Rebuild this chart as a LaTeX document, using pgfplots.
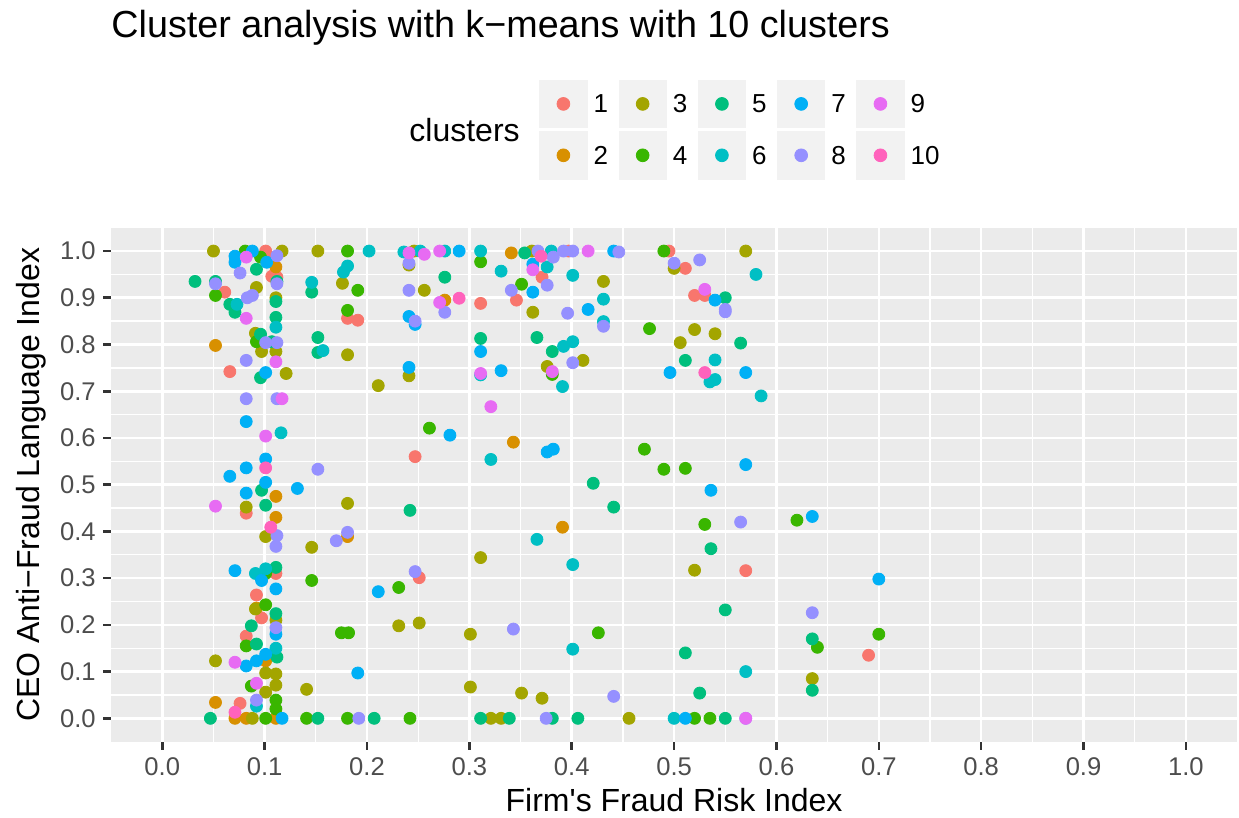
\documentclass[border=0pt]{standalone}
\usepackage{pgfplots}
\pgfplotsset{compat=1.18}
\usepackage{fontspec}
\setmainfont{Liberation Sans}

% ggplot2 hue palette for ten groups
\definecolor{c1}{HTML}{F8766D}
\definecolor{c2}{HTML}{D89000}
\definecolor{c3}{HTML}{A3A500}
\definecolor{c4}{HTML}{39B600}
\definecolor{c5}{HTML}{00BF7D}
\definecolor{c6}{HTML}{00BFC4}
\definecolor{c7}{HTML}{00B0F6}
\definecolor{c8}{HTML}{9590FF}
\definecolor{c9}{HTML}{E76BF3}
\definecolor{c10}{HTML}{FF62BC}
\definecolor{panelbg}{HTML}{EBEBEB}
\definecolor{keybg}{HTML}{F2F2F2}
\definecolor{tickcol}{HTML}{333333}
\definecolor{ticktext}{HTML}{4D4D4D}

\pgfplotsset{
  cl/.style={only marks, mark=*, mark size=3pt,
    legend image code/.code={
      \fill[keybg] (0pt,-11.85pt) rectangle (23.7pt,11.85pt);
      \fill (11.85pt,0pt) circle (3.2pt);
    }},
}

\begin{document}
\begin{tikzpicture}
\begin{axis}[
  scale only axis,
  width=563pt, height=257pt,
  xmin=-0.05, xmax=1.05, ymin=-0.05, ymax=1.05,
  axis background/.style={fill=panelbg},
  axis line style={draw=none},
  xtick={0,0.1,0.2,0.3,0.4,0.5,0.6,0.7,0.8,0.9,1},
  ytick={0,0.1,0.2,0.3,0.4,0.5,0.6,0.7,0.8,0.9,1},
  xticklabels={0.0,0.1,0.2,0.3,0.4,0.5,0.6,0.7,0.8,0.9,1.0},
  yticklabels={0.0,0.1,0.2,0.3,0.4,0.5,0.6,0.7,0.8,0.9,1.0},
  minor xtick={0.05,0.15,0.25,0.35,0.45,0.55,0.65,0.75,0.85,0.95},
  minor ytick={0.05,0.15,0.25,0.35,0.45,0.55,0.65,0.75,0.85,0.95},
  grid=both,
  major grid style={white, line width=1.3pt},
  minor grid style={white, line width=0.65pt},
  tick pos=left,
  tick align=outside,
  major tick length=4pt,
  minor tick length=0pt,
  every tick/.append style={tickcol, line width=1.3pt},
  xticklabel style={font=\fontsize{12.8}{14}\selectfont, text=ticktext, inner sep=0pt, anchor=north, yshift=-3.9pt},
  yticklabel style={font=\fontsize{12.8}{14}\selectfont, text=ticktext, inner sep=0pt, anchor=east, xshift=-3.5pt},
  xlabel={Firm\textquotesingle s Fraud Risk Index},
  ylabel={CEO Anti−Fraud Language Index},
  xlabel style={font=\fontsize{16}{18}\selectfont, at={(axis description cs:0.5,0)}, anchor=base, yshift=-35.15pt, inner sep=0pt},
  ylabel style={font=\fontsize{16}{18}\selectfont, at={(axis description cs:0,0.5)}, anchor=base, yshift=36pt, inner sep=0pt},
  legend columns=2,
  transpose legend,
  legend cell align=left,
  legend style={draw=none, fill=none,
    at={(axis description cs:0.3803,1.2877)}, anchor=north west,
    inner sep=0pt, outer sep=0pt, row sep=1.6pt, column sep=0pt,
    nodes={inner sep=0pt, outer sep=0pt, text depth=0pt, font=\fontsize{13}{15}\selectfont},
    /tikz/every odd column/.append style={column sep=3.1pt},
    /tikz/every even column/.append style={column sep=5.2pt}},
]
% cluster 1
\addplot[cl, color=c1] coordinates {
(0.101,1.0) (0.102,0.99) (0.107,0.946) (0.112,0.944) (0.061,0.912) (0.066,0.742)
(0.397,1.0) (0.371,0.944) (0.346,0.895) (0.311,0.888) (0.181,0.856) (0.191,0.852)
(0.495,1.0) (0.511,0.963) (0.52,0.905) (0.53,0.905) (0.247,0.56) (0.082,0.439)
(0.111,0.31) (0.092,0.264) (0.097,0.215) (0.082,0.176) (0.076,0.032) (0.251,0.301)
(0.57,0.316) (0.69,0.135)};
\addlegendentry{1}
% cluster 2
\addplot[cl, color=c2] coordinates {
(0.111,0.966) (0.052,0.798) (0.341,0.996) (0.276,0.895) (0.343,0.591) (0.111,0.475)
(0.111,0.43) (0.181,0.389) (0.391,0.409) (0.092,0.236) (0.101,0.123) (0.052,0.034)
(0.071,0.0) (0.082,0.0) (0.111,0.0)};
\addlegendentry{2}
% cluster 3
\addplot[cl, color=c3] coordinates {
(0.05,1.0) (0.117,1.0) (0.152,1.0) (0.092,0.922) (0.111,0.9) (0.091,0.824)
(0.097,0.785) (0.111,0.785) (0.121,0.738) (0.246,1.0) (0.241,0.97) (0.176,0.931)
(0.256,0.916) (0.181,0.778) (0.241,0.733) (0.211,0.712) (0.361,1.0) (0.362,0.869)
(0.376,0.753) (0.411,0.766) (0.431,0.935) (0.5,0.963) (0.52,0.832) (0.506,0.804)
(0.57,1.0) (0.54,0.823) (0.082,0.452) (0.101,0.389) (0.146,0.366) (0.181,0.46)
(0.311,0.344) (0.52,0.317) (0.091,0.234) (0.111,0.21) (0.052,0.123) (0.101,0.097)
(0.111,0.095) (0.111,0.071) (0.101,0.056) (0.141,0.062) (0.088,0.0) (0.231,0.198)
(0.251,0.204) (0.301,0.18) (0.301,0.067) (0.321,0.0) (0.331,0.0) (0.351,0.054)
(0.371,0.043) (0.456,0.0) (0.635,0.085)};
\addlegendentry{3}
% cluster 4
\addplot[cl, color=c4] coordinates {
(0.081,1.0) (0.096,0.987) (0.052,0.905) (0.092,0.806) (0.181,1.0) (0.311,0.977)
(0.191,0.916) (0.181,0.873) (0.351,0.929) (0.381,0.736) (0.476,0.834) (0.49,1.0)
(0.261,0.621) (0.471,0.576) (0.49,0.533) (0.511,0.535) (0.53,0.415) (0.62,0.424)
(0.101,0.31) (0.146,0.295) (0.101,0.243) (0.082,0.155) (0.087,0.069) (0.111,0.039)
(0.111,0.02) (0.101,0.0) (0.141,0.0) (0.231,0.28) (0.175,0.183) (0.182,0.183)
(0.181,0.0) (0.242,0.0) (0.426,0.183) (0.52,0.0) (0.535,0.0) (0.70,0.18) (0.64,0.152)};
\addlegendentry{4}
% cluster 5
\addplot[cl, color=c5] coordinates {
(0.032,0.935) (0.052,0.935) (0.092,0.961) (0.112,0.935) (0.146,0.912) (0.111,0.892)
(0.066,0.886) (0.071,0.869) (0.111,0.858) (0.152,0.815) (0.152,0.783) (0.096,0.822)
(0.107,0.806) (0.096,0.729) (0.354,0.996) (0.276,0.944) (0.311,0.813) (0.366,0.815)
(0.381,0.785) (0.511,0.766) (0.55,0.9) (0.565,0.803) (0.097,0.488) (0.101,0.456)
(0.242,0.445) (0.421,0.503) (0.441,0.452) (0.536,0.363) (0.111,0.323) (0.111,0.224)
(0.087,0.198) (0.092,0.159) (0.112,0.131) (0.047,0.0) (0.152,0.0) (0.207,0.0)
(0.311,0.0) (0.339,0.0) (0.381,0.0) (0.406,0.0) (0.511,0.14) (0.525,0.054)
(0.55,0.232) (0.635,0.17) (0.635,0.06) (0.55,0.0)};
\addlegendentry{5}
% cluster 6
\addplot[cl, color=c6] coordinates {
(0.073,0.886) (0.146,0.933) (0.111,0.837) (0.157,0.787) (0.116,0.611) (0.202,1.0)
(0.236,0.998) (0.252,1.0) (0.276,1.0) (0.311,1.0) (0.181,0.968) (0.177,0.955)
(0.331,0.957) (0.311,0.735) (0.38,1.0) (0.376,0.966) (0.401,0.948) (0.431,0.897)
(0.431,0.849) (0.401,0.806) (0.392,0.796) (0.391,0.71) (0.58,0.95) (0.54,0.767)
(0.54,0.725) (0.535,0.72) (0.585,0.69) (0.321,0.554) (0.366,0.383) (0.401,0.329)
(0.091,0.31) (0.101,0.32) (0.111,0.15) (0.092,0.026) (0.401,0.148) (0.5,0.0) (0.57,0.1)};
\addlegendentry{6}
% cluster 7
\addplot[cl, color=c7] coordinates {
(0.071,0.989) (0.071,0.976) (0.088,1.0) (0.102,0.976) (0.101,0.74) (0.29,1.0)
(0.241,0.86) (0.247,0.843) (0.311,0.785) (0.241,0.751) (0.331,0.744) (0.441,1.0)
(0.362,0.972) (0.362,0.912) (0.416,0.875) (0.496,0.74) (0.54,0.895) (0.57,0.74)
(0.082,0.635) (0.101,0.555) (0.082,0.536) (0.066,0.518) (0.101,0.505) (0.132,0.492)
(0.082,0.482) (0.071,0.316) (0.281,0.606) (0.376,0.57) (0.382,0.576) (0.536,0.488)
(0.57,0.543) (0.635,0.432) (0.70,0.298) (0.097,0.295) (0.111,0.277) (0.111,0.18)
(0.101,0.137) (0.082,0.112) (0.092,0.123) (0.117,0.0) (0.211,0.271) (0.191,0.097)
(0.511,0.0)};
\addlegendentry{7}
% cluster 8
\addplot[cl, color=c8] coordinates {
(0.112,0.99) (0.076,0.953) (0.052,0.93) (0.112,0.93) (0.083,0.9) (0.088,0.905)
(0.101,0.804) (0.112,0.804) (0.082,0.766) (0.082,0.684) (0.112,0.684) (0.241,0.974)
(0.241,0.916) (0.341,0.916) (0.276,0.869) (0.247,0.85) (0.367,1.0) (0.392,1.0)
(0.401,1.0) (0.446,0.998) (0.382,0.987) (0.376,0.927) (0.396,0.867) (0.431,0.839)
(0.401,0.761) (0.5,0.974) (0.525,0.981) (0.55,0.87) (0.55,0.875) (0.152,0.533)
(0.112,0.391) (0.111,0.368) (0.17,0.38) (0.181,0.398) (0.247,0.314) (0.565,0.42)
(0.111,0.194) (0.092,0.039) (0.192,0.0) (0.343,0.191) (0.375,0.0) (0.441,0.047)
(0.635,0.226) (0.57,0.0)};
\addlegendentry{8}
% cluster 9
\addplot[cl, color=c9] coordinates {
(0.082,0.987) (0.082,0.856) (0.111,0.763) (0.117,0.684) (0.241,0.996) (0.256,0.993)
(0.271,1.0) (0.271,0.89) (0.416,1.0) (0.362,0.96) (0.311,0.738) (0.321,0.667)
(0.53,0.918) (0.101,0.604) (0.052,0.454) (0.071,0.12) (0.092,0.075) (0.57,0.0)
(0.381,0.742)};
\addlegendentry{9}
% cluster 10
\addplot[cl, color=c10] coordinates {
(0.29,0.899) (0.37,0.989) (0.53,0.74) (0.101,0.536) (0.106,0.409) (0.071,0.013)};
\addlegendentry{10}
\end{axis}
% plot title and legend title
\node[anchor=base west, inner sep=0pt, font=\fontsize{18.85}{22}\selectfont] at (0pt,351.85pt) {Cluster analysis with k−means with 10 clusters};
\node[anchor=base east, inner sep=0pt, font=\fontsize{16}{18}\selectfont] at (204.5pt,300pt) {clusters};
\pgfresetboundingbox
\path[use as bounding box] (-55.55pt,-38.15pt) rectangle (563.95pt,370.85pt);
\end{tikzpicture}
\end{document}
